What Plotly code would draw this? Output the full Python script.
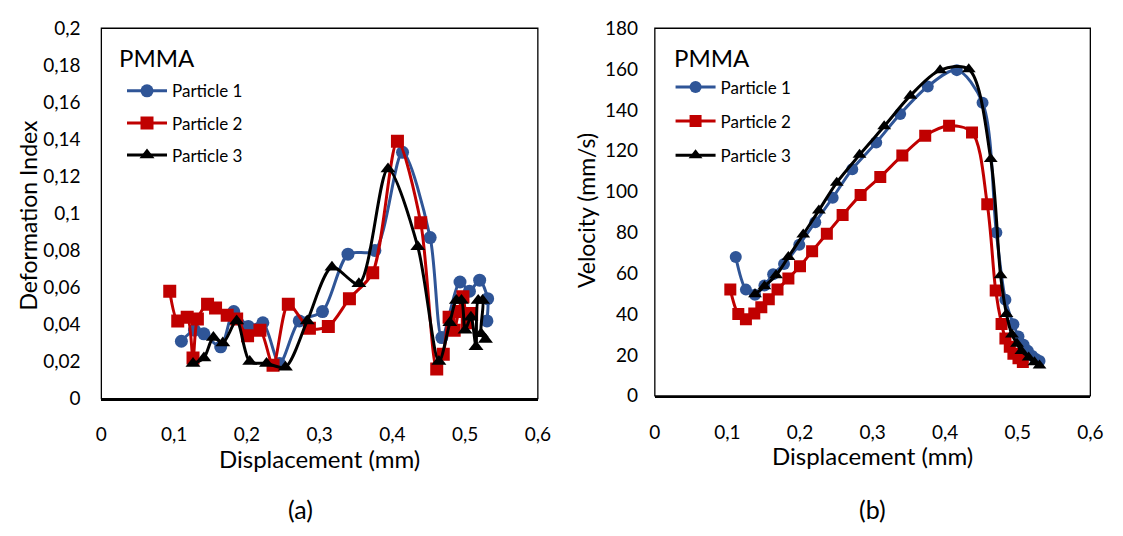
import plotly.graph_objects as go

# ---------------- data ----------------
# (a) Deformation index vs displacement
a_p1_x = [0.110, 0.128, 0.141, 0.164, 0.182, 0.202, 0.222, 0.245, 0.272, 0.304, 0.339, 0.376,
          0.414, 0.452, 0.468, 0.493, 0.506, 0.520, 0.531, 0.530]
a_p1_y = [0.031, 0.037, 0.035, 0.028, 0.047, 0.039, 0.041, 0.019, 0.042, 0.047, 0.078, 0.080,
          0.133, 0.087, 0.033, 0.063, 0.058, 0.064, 0.054, 0.042]

a_p2_x = [0.094, 0.105, 0.118, 0.126, 0.132, 0.146, 0.157, 0.173, 0.186, 0.201, 0.218, 0.236,
          0.257, 0.286, 0.312, 0.341, 0.373, 0.407, 0.439, 0.461, 0.470, 0.478, 0.485, 0.491,
          0.497, 0.503, 0.509]
a_p2_y = [0.058, 0.042, 0.044, 0.022, 0.043, 0.051, 0.049, 0.045, 0.043, 0.034, 0.037, 0.018,
          0.051, 0.038, 0.039, 0.054, 0.068, 0.139, 0.095, 0.016, 0.024, 0.044, 0.037, 0.047,
          0.055, 0.041, 0.046]

a_p3_x = [0.126, 0.141, 0.154, 0.167, 0.186, 0.204, 0.227, 0.253, 0.283, 0.317, 0.354, 0.394,
          0.435, 0.464, 0.479, 0.488, 0.495, 0.500, 0.508, 0.515, 0.518, 0.524, 0.522, 0.528]
a_p3_y = [0.019, 0.022, 0.033, 0.030, 0.042, 0.020, 0.019, 0.017, 0.042, 0.071, 0.062, 0.124,
          0.082, 0.020, 0.041, 0.053, 0.053, 0.037, 0.044, 0.028, 0.053, 0.053, 0.035, 0.032]

# (b) Velocity vs displacement
b_p1_x = [0.1115, 0.1255, 0.138, 0.151, 0.163, 0.178, 0.199, 0.221, 0.245, 0.272, 0.305, 0.338,
          0.376, 0.416, 0.4515, 0.4705, 0.483, 0.494, 0.501, 0.508, 0.514, 0.520, 0.525, 0.530]
b_p1_y = [68, 52, 49.5, 54, 59.5, 64.5, 74, 85, 97, 111, 124, 138,
          151.5, 159.5, 143.5, 80, 47, 35, 29, 25, 22, 19.5, 18, 17]

b_p2_x = [0.104, 0.115, 0.1255, 0.137, 0.1467, 0.157, 0.169, 0.184, 0.200, 0.2167, 0.237, 0.2587,
          0.2835, 0.3106, 0.341, 0.3725, 0.4054, 0.437, 0.458, 0.4696, 0.4777, 0.483, 0.489,
          0.494, 0.501, 0.507]
b_p2_y = [52, 40, 37.5, 40.3, 43.4, 47.3, 52, 57.5, 63.4, 70.8, 79.4, 88.5,
          98.4, 107.2, 117.7, 127.4, 132.2, 129, 93.8, 51.6, 35.2, 28, 24, 20.6, 18.4, 16.5]

b_p3_x = [0.138, 0.151, 0.167, 0.184, 0.2045, 0.226, 0.2506, 0.282, 0.316, 0.352, 0.393, 0.4325,
          0.4628, 0.4763, 0.4845, 0.492, 0.499, 0.505, 0.515, 0.523, 0.530]
b_p3_y = [49.7, 53.6, 59, 68, 79, 90.8, 104.4, 118, 132, 147, 159.5, 159.9,
          116, 59, 40, 30, 25.5, 21.9, 18.8, 16.4, 14.8]

names = ["Particle 1", "Particle 2", "Particle 3"]
colors = ["#2F5597", "#C00000", "#000000"]
symbols = ["circle", "square", "triangle-up"]

x_ticks = [0, 0.1, 0.2, 0.3, 0.4, 0.5, 0.6]
x_ticktext = ["0", "0,1", "0,2", "0,3", "0,4", "0,5", "0,6"]
ya_ticks = [0, 0.02, 0.04, 0.06, 0.08, 0.1, 0.12, 0.14, 0.16, 0.18, 0.2]
ya_ticktext = ["0", "0,02", "0,04", "0,06", "0,08", "0,1", "0,12", "0,14", "0,16", "0,18", "0,2"]
yb_ticks = [0, 20, 40, 60, 80, 100, 120, 140, 160, 180]
yb_ticktext = ["0", "20", "40", "60", "80", "100", "120", "140", "160", "180"]

# ---------------- figure ----------------
W, H = 1123, 536
FONT = "Lato"
fig = go.Figure()

a_sets = [(a_p1_x, a_p1_y), (a_p2_x, a_p2_y), (a_p3_x, a_p3_y)]
b_sets = [(b_p1_x, b_p1_y), (b_p2_x, b_p2_y), (b_p3_x, b_p3_y)]

for i, (xs, ys) in enumerate(a_sets):
    fig.add_trace(go.Scatter(
        x=xs, y=ys, name=names[i], xaxis="x", yaxis="y", legend="legend",
        legendgroup="a%d" % i,
        mode="lines+markers",
        line=dict(color=colors[i], width=3, shape="spline", smoothing=0.8),
        marker=dict(symbol=symbols[i], size=13, color=colors[i]),
    ))
for i, (xs, ys) in enumerate(b_sets):
    fig.add_trace(go.Scatter(
        x=xs, y=ys, name=names[i], xaxis="x2", yaxis="y2", legend="legend2",
        legendgroup="b%d" % i,
        mode="lines+markers",
        line=dict(color=colors[i], width=3, shape="spline", smoothing=0.9),
        marker=dict(symbol=symbols[i], size=12, color=colors[i]),
    ))

def px_x(p):
    return p / W

def px_y(p):
    return 1 - p / H

axis_common = dict(showgrid=False, zeroline=False, ticks="outside",
                   tickcolor="rgba(0,0,0,0)", tickfont=dict(family=FONT, size=19, color="#000"))

fig.update_layout(
    width=W, height=H, autosize=False,
    margin=dict(l=0, r=0, t=0, b=0),
    paper_bgcolor="white", plot_bgcolor="white",
    font=dict(family=FONT, color="#000"),
    xaxis=dict(domain=[px_x(97), px_x(541)], range=[0, 0.6], anchor="y",
               tickvals=x_ticks, ticktext=x_ticktext, ticklen=18,
               showline=True, linecolor="#000", linewidth=2, **axis_common),
    yaxis=dict(domain=[px_y(404), px_y(17)], range=[0, 0.2], anchor="x",
               tickvals=ya_ticks, ticktext=ya_ticktext, ticklen=16,
               showline=False, **axis_common),
    xaxis2=dict(domain=[px_x(660), px_x(1103)], range=[0, 0.6], anchor="y2",
                tickvals=x_ticks, ticktext=x_ticktext, ticklen=18,
                showline=True, linecolor="#000", linewidth=2, **axis_common),
    yaxis2=dict(domain=[px_y(401), px_y(17)], range=[0, 180], anchor="x2",
                tickvals=yb_ticks, ticktext=yb_ticktext, ticklen=12,
                showline=False, **axis_common),
    legend=dict(x=px_x(118), y=px_y(64), xanchor="left", yanchor="top",
                bgcolor="rgba(255,255,255,0)", font=dict(family=FONT, size=17, color="#000"),
                tracegroupgap=7, itemwidth=40),
    legend2=dict(x=px_x(676), y=px_y(60), xanchor="left", yanchor="top",
                 bgcolor="rgba(255,255,255,0)", font=dict(family=FONT, size=17, color="#000"),
                 tracegroupgap=9, itemwidth=40),
    showlegend=True,
)

# plot-area frames
for xr, yr in (("x domain", "y domain"), ("x2 domain", "y2 domain")):
    fig.add_shape(type="rect", xref=xr, yref=yr, x0=0, x1=1, y0=0, y1=1,
                  line=dict(color="#000", width=1.3), layer="above")

ann = [
    dict(text="PMMA", x=px_x(113), y=px_y(48), size=24, xanchor="left"),
    dict(text="PMMA", x=px_x(677), y=px_y(48), size=24, xanchor="left"),
    dict(text="Displacement (mm)", x=px_x(319), y=px_y(466), size=24, xanchor="center"),
    dict(text="Displacement (mm)", x=px_x(881), y=px_y(463), size=24, xanchor="center"),
    dict(text="(a)", x=px_x(300), y=px_y(519), size=25, xanchor="center"),
    dict(text="(b)", x=px_x(881), y=px_y(519), size=25, xanchor="center"),
]
for a in ann:
    fig.add_annotation(text=a["text"], x=a["x"], y=a["y"], xref="paper", yref="paper",
                       xanchor=a["xanchor"], yanchor="middle", showarrow=False,
                       font=dict(family=FONT, size=a["size"], color="#000"))
fig.add_annotation(text="Deformation Index", x=px_x(22), y=px_y(212), xref="paper", yref="paper",
                   textangle=-90, showarrow=False, xanchor="center", yanchor="middle",
                   font=dict(family=FONT, size=23, color="#000"))
fig.add_annotation(text="Velocity (mm/s)", x=px_x(590), y=px_y(208), xref="paper", yref="paper",
                   textangle=-90, showarrow=False, xanchor="center", yanchor="middle",
                   font=dict(family=FONT, size=23, color="#000"))

fig.write_html("out.html")
